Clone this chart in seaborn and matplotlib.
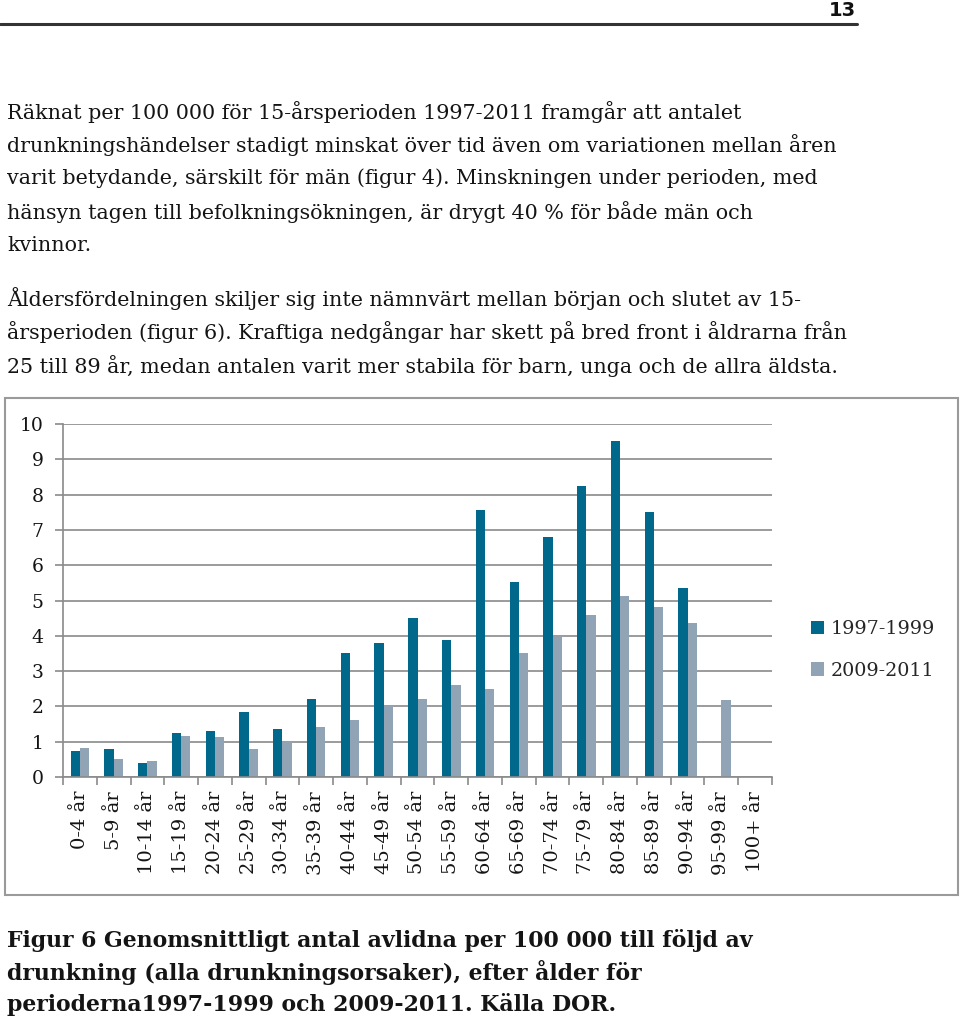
import numpy as np
import pandas as pd
import matplotlib
matplotlib.use("Agg")
import matplotlib.pyplot as plt
from matplotlib.patches import Rectangle
from matplotlib.ticker import FixedLocator
import seaborn as sns

# Data (deaths per 100 000)
age_groups = ["0-4 år", "5-9 år", "10-14 år", "15-19 år", "20-24 år", "25-29 år",
              "30-34 år", "35-39 år", "40-44 år", "45-49 år", "50-54 år", "55-59 år",
              "60-64 år", "65-69 år", "70-74 år", "75-79 år", "80-84 år", "85-89 år",
              "90-94 år", "95-99 år", "100+ år"]
period_1 = [0.73, 0.79, 0.41, 1.25, 1.29, 1.83, 1.36, 2.22, 3.50, 3.81, 4.50, 3.87,
            7.55, 5.51, 6.79, 8.25, 9.51, 7.52, 5.34, 0.0, 0.0]
period_2 = [0.81, 0.50, 0.46, 1.17, 1.14, 0.78, 0.99, 1.41, 1.61, 2.01, 2.20, 2.60,
            2.49, 3.52, 3.98, 4.59, 5.14, 4.81, 4.37, 2.17, 0.0]
periods = ["1997-1999", "2009-2011"]
y_ticks = list(range(0, 11))

body_lines = [
    "Räknat per 100 000 för 15-årsperioden 1997-2011 framgår att antalet",
    "drunkningshändelser stadigt minskat över tid även om variationen mellan åren",
    "varit betydande, särskilt för män (figur 4). Minskningen under perioden, med",
    "hänsyn tagen till befolkningsökningen, är drygt 40 % för både män och",
    "kvinnor.",
]
body_lines2 = [
    "Åldersfördelningen skiljer sig inte nämnvärt mellan början och slutet av 15-",
    "årsperioden (figur 6). Kraftiga nedgångar har skett på bred front i åldrarna från",
    "25 till 89 år, medan antalen varit mer stabila för barn, unga och de allra äldsta.",
]
caption_lines = [
    "Figur 6 Genomsnittligt antal avlidna per 100 000 till följd av",
    "drunkning (alla drunkningsorsaker), efter ålder för",
    "perioderna1997-1999 och 2009-2011. Källa DOR.",
]

df = pd.DataFrame({
    "age": age_groups * 2,
    "value": period_1 + period_2,
    "period": [periods[0]] * len(age_groups) + [periods[1]] * len(age_groups),
})

sns.set_theme(style="white")
plt.rcParams["font.family"] = ["DejaVu Serif"]

W, H = 960, 1022
fig = plt.figure(figsize=(W / 100, H / 100), dpi=100)
fig.patch.set_facecolor("white")

def fx(px):
    return px / W

def fy(py):
    return 1 - py / H

# page header
fig.add_artist(plt.Line2D([fx(0), fx(857)], [fy(24), fy(24)], color="#333333", lw=2.2))
fig.text(fx(856), fy(11), "13", ha="right", va="center", fontsize=14, fontweight="bold",
         family="DejaVu Sans", color="#111111")

text_color = "#141414"
body_fs = 14.9
for i, line in enumerate(body_lines):
    fig.text(fx(7), fy(112 + i * 33.3), line, ha="left", va="center", fontsize=body_fs,
             color=text_color)
for i, line in enumerate(body_lines2):
    fig.text(fx(7), fy(298 + i * 34), line, ha="left", va="center", fontsize=body_fs,
             color=text_color)
for i, line in enumerate(caption_lines):
    fig.text(fx(7), fy(940 + i * 32), line, ha="left", va="center", fontsize=15.8,
             fontweight="bold", color=text_color)

# chart frame
fig.add_artist(Rectangle((fx(5), fy(895)), fx(958) - fx(5), fy(398) - fy(895),
                         transform=fig.transFigure, fill=False, edgecolor="#9a9a9a", lw=1.5))

ax_left, ax_right = fx(63), fx(772)
ax = fig.add_axes([ax_left, fy(777), ax_right - ax_left, fy(424) - fy(777)])
colors = ["#00688B", "#90A4B5"]
sns.barplot(data=df, x="age", y="value", hue="period", order=age_groups,
            hue_order=periods, palette=colors, width=0.55, gap=0, saturation=1,
            linewidth=0, ax=ax, legend=True)

ax.set_ylim(0, 10)
ax.set_xlim(-0.5, len(age_groups) - 0.5)
ax.set_yticks(y_ticks)
ax.set_yticklabels([str(t) for t in y_ticks], fontsize=13.5, color=text_color)
ax.yaxis.grid(True, color="#8a8a8a", lw=1.2)
ax.set_axisbelow(True)
ax.set_xlabel("")
ax.set_ylabel("")
ax.tick_params(axis="y", length=6, width=1.2, color="#8a8a8a", pad=8, left=True)
ax.set_xticks(range(len(age_groups)))
ax.set_xticklabels(age_groups, rotation=90, fontsize=14, color=text_color)
ax.tick_params(axis="x", which="major", length=0, pad=10)
ax.xaxis.set_minor_locator(FixedLocator(np.arange(-0.5, len(age_groups), 1.0)))
ax.tick_params(axis="x", which="minor", length=6, width=1.2, color="#8a8a8a", bottom=True)
for side in ["top", "right"]:
    ax.spines[side].set_visible(False)
for side in ["left", "bottom"]:
    ax.spines[side].set_color("#8a8a8a")
    ax.spines[side].set_linewidth(1.2)

handles, labels = ax.get_legend_handles_labels()
legend_x = (fx(803) - ax_left) / (ax_right - ax_left)
ax.legend(handles, labels, loc="center left", bbox_to_anchor=(legend_x, 0.36),
          frameon=False, fontsize=13.8, handlelength=0.7, handleheight=0.7,
          handletextpad=0.35, labelspacing=1.25, borderaxespad=0)

fig.savefig("out.png", dpi=100)
